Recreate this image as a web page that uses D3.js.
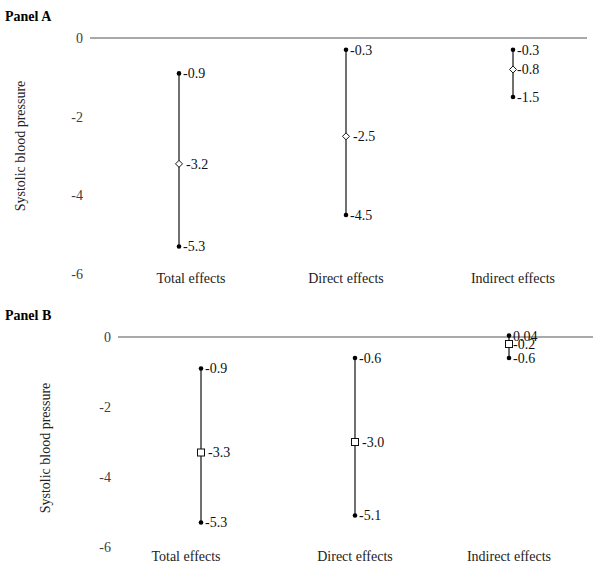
<!DOCTYPE html>
<html><head><meta charset="utf-8">
<script src="https://cdn.jsdelivr.net/npm/d3@7"></script>
<style>body{margin:0;background:#fff}svg{display:block}</style>
</head><body>
<svg id="c" width="600" height="566"></svg>
<script>
const categories = ["Total effects", "Direct effects", "Indirect effects"];
const yTicks = [0, -2, -4, -6];
const yTitle = "Systolic blood pressure";

const panelAUpper = [-0.9, -0.3, -0.3];
const panelAEst   = [-3.2, -2.5, -0.8];
const panelALower = [-5.3, -4.5, -1.5];
const panelAUpperLbl = ["-0.9", "-0.3", "-0.3"];
const panelAEstLbl   = ["-3.2", "-2.5", "-0.8"];
const panelALowerLbl = ["-5.3", "-4.5", "-1.5"];

const panelBUpper = [-0.9, -0.6, 0.04];
const panelBEst   = [-3.3, -3.0, -0.2];
const panelBLower = [-5.3, -5.1, -0.6];
const panelBUpperLbl = ["-0.9", "-0.6", "0.04"];
const panelBEstLbl   = ["-3.3", "-3.0", "-0.2"];
const panelBLowerLbl = ["-5.3", "-5.1", "-0.6"];

const svg = d3.select("#c");
const font = "'Liberation Serif', 'Times New Roman', serif";

function panel(cfg) {
  const g = svg.append("g");
  g.append("text").attr("x", 5).attr("y", cfg.titleY)
    .attr("font-family", font).attr("font-size", 14).attr("font-weight", "bold")
    .text(cfg.title);
  const y = d3.scaleLinear().domain([0, -6]).range([cfg.y0, cfg.y6]);
  const x = d3.scalePoint().domain(categories).range(cfg.xRange);
  // zero line
  g.append("line").attr("x1", cfg.lineX[0]).attr("x2", cfg.lineX[1])
    .attr("y1", y(0)).attr("y2", y(0)).attr("stroke", "#8c8c8c").attr("stroke-width", 1.3);
  // y tick labels
  g.selectAll(".yt").data(yTicks).enter().append("text")
    .attr("x", cfg.tickX).attr("y", d => y(d)).attr("dy", "0.35em")
    .attr("text-anchor", "end").attr("font-family", font).attr("font-size", 14)
    .attr("fill", "#404040").text(d => d);
  // y title
  g.append("text").attr("transform", `translate(${cfg.titleX},${cfg.titleCY}) rotate(-90)`)
    .attr("text-anchor", "middle").attr("font-family", font).attr("font-size", 14)
    .attr("fill", "#222").text(yTitle);
  // category labels
  g.selectAll(".cl").data(categories).enter().append("text")
    .attr("x", d => x(d) + (d === "Total effects" ? cfg.totalShift : 0)).attr("y", cfg.catY)
    .attr("text-anchor", "middle").attr("font-family", font).attr("font-size", 14)
    .attr("fill", "#222").text(d => d);
  const rows = categories.map((c, i) => ({c, u: cfg.upper[i], e: cfg.est[i], l: cfg.lower[i],
    ul: cfg.upperLbl[i], el: cfg.estLbl[i], ll: cfg.lowerLbl[i]}));
  // whiskers
  g.selectAll(".wl").data(rows).enter().append("line")
    .attr("x1", d => x(d.c)).attr("x2", d => x(d.c))
    .attr("y1", d => y(d.u)).attr("y2", d => y(d.l))
    .attr("stroke", "#111").attr("stroke-width", 1.2);
  // endpoint dots
  rows.forEach(d => {
    [[d.u, d.ul], [d.l, d.ll]].forEach(([v, lbl]) => {
      g.append("circle").attr("cx", x(d.c)).attr("cy", y(v)).attr("r", 2.3).attr("fill", "#000");
      g.append("text").attr("x", x(d.c) + 4).attr("y", y(v)).attr("dy", "0.35em")
        .attr("font-family", font).attr("font-size", 14).attr("fill", "#111").text(lbl);
    });
    // estimate marker
    const cx = x(d.c), cy = y(d.e);
    if (cfg.shape === "diamond") {
      g.append("path").attr("d", `M${cx},${cy-3.5}L${cx+3.5},${cy}L${cx},${cy+3.5}L${cx-3.5},${cy}Z`)
        .attr("fill", "#fff").attr("stroke", "#111").attr("stroke-width", 1);
    } else {
      g.append("rect").attr("x", cx - 3.5).attr("y", cy - 3.5).attr("width", 7).attr("height", 7)
        .attr("fill", "#fff").attr("stroke", "#111").attr("stroke-width", 1);
    }
    g.append("text").attr("x", cx + (Math.abs(d.u - d.e) < 1 ? 4 : 7)).attr("y", cy).attr("dy", "0.35em")
      .attr("font-family", font).attr("font-size", 14).attr("fill", "#111").text(d.el);
  });
}

panel({title: "Panel A", titleY: 21, y0: 38, y6: 274, xRange: [179, 513], lineX: [90, 587],
  tickX: 83, titleX: 25, titleCY: 146, catY: 283, totalShift: 12, shape: "diamond",
  upper: panelAUpper, est: panelAEst, lower: panelALower,
  upperLbl: panelAUpperLbl, estLbl: panelAEstLbl, lowerLbl: panelALowerLbl});

panel({title: "Panel B", titleY: 320, y0: 337, y6: 547, xRange: [201, 509], lineX: [118, 593],
  tickX: 111, titleX: 50, titleCY: 448, catY: 561, totalShift: -15, shape: "square",
  upper: panelBUpper, est: panelBEst, lower: panelBLower,
  upperLbl: panelBUpperLbl, estLbl: panelBEstLbl, lowerLbl: panelBLowerLbl});
</script>
</body></html>
